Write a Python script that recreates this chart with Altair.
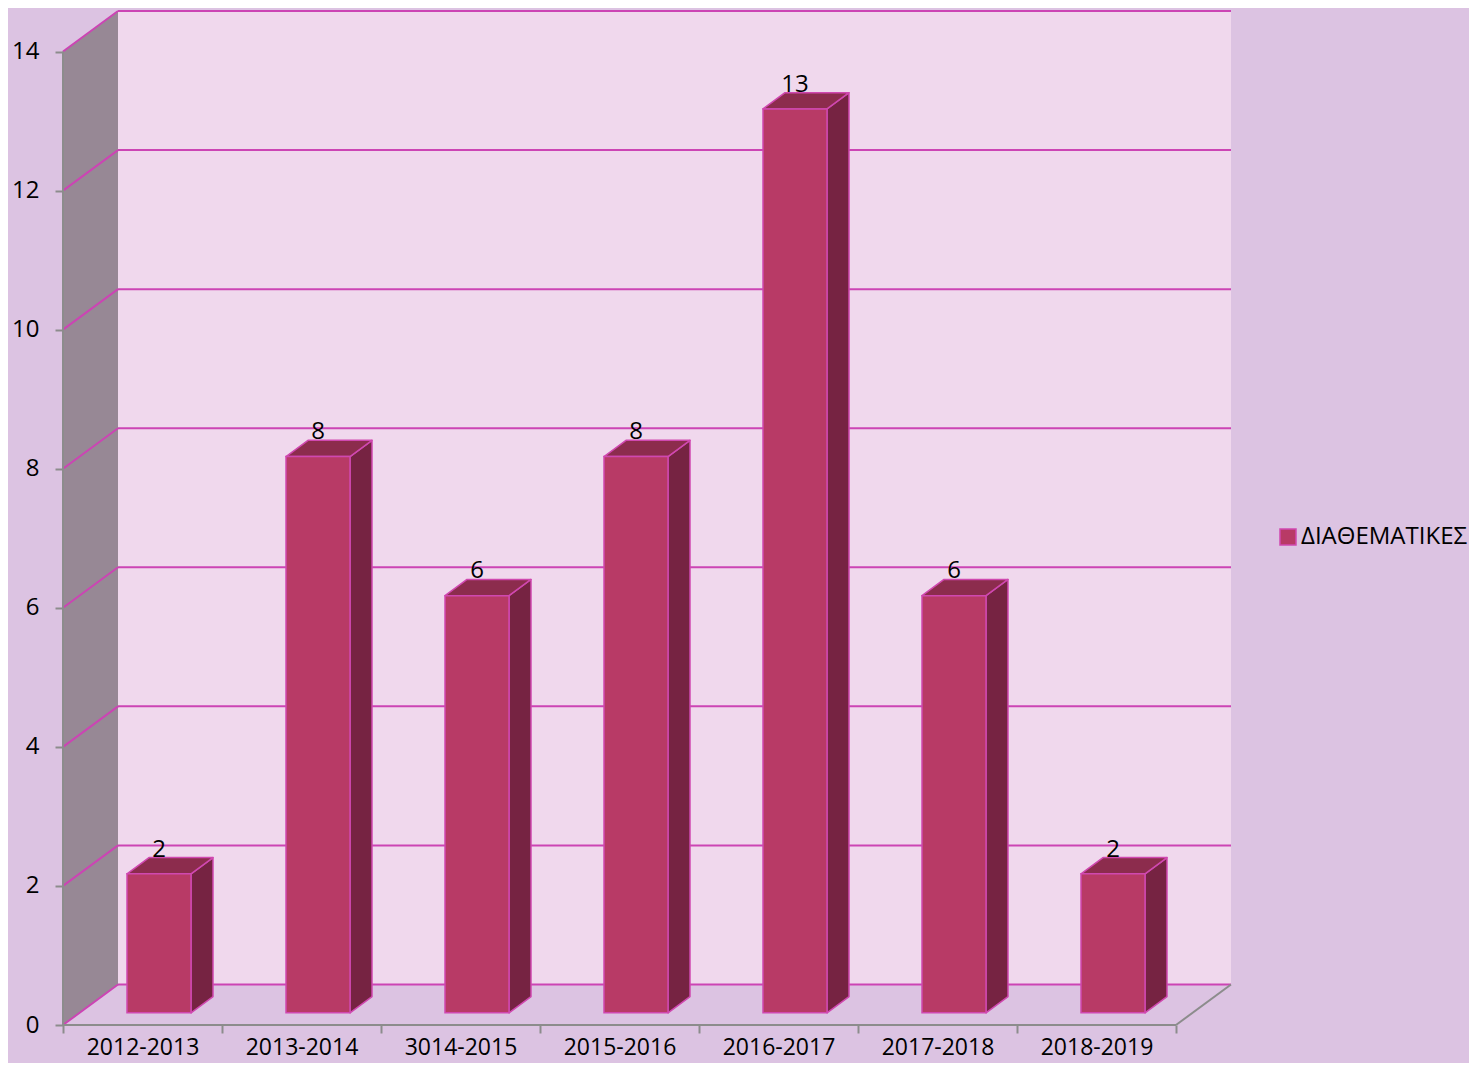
import json
import altair as alt
import pandas as pd

# ---- data ----
categories = ["2012-2013", "2013-2014", "3014-2015", "2015-2016", "2016-2017", "2017-2018", "2018-2019"]
values = [2, 8, 6, 8, 13, 6, 2]
series_name = "ΔΙΑΘΕΜΑΤΙΚΕΣ"
y_ticks = [0, 2, 4, 6, 8, 10, 12, 14]

# ---- style / geometry constants ----
W, H = 1168, 1014
DEPTH_PX_X, DEPTH_PX_Y = 55, 40.5
N = len(categories)
YMAX = 14
slot_px = (W - DEPTH_PX_X) / N
unit_px = (H - DEPTH_PX_Y) / YMAX
DX = DEPTH_PX_X / slot_px
DY = DEPTH_PX_Y / unit_px
HALF = 32 / slot_px
D0, D1 = 0.30, 0.70

BG = "#dcc3e2"
WALL = "#f0d8ed"
SIDEWALL = "#978895"
GRID = "#cc44b4"
GRAY = "#8c8c8c"
FRONT = "#b83a66"
SIDE = "#762342"
TOP = "#8c2c4d"
EDGE = "#d048b0"
FONT = "Open Sans"
FW = 500

xs = alt.Scale(domain=[0, N + DX], nice=False, zero=False)
ys = alt.Scale(domain=[0, YMAX + DY], nice=False, zero=False)

label_expr = f"datum.value < {N} ? {json.dumps(categories, ensure_ascii=False)}[datum.value] : ''"
xaxis = alt.Axis(values=list(range(N + 1)), labelExpr=label_expr, labelOffset=slot_px / 2,
                 tickSize=8, tickColor=GRAY, tickWidth=2, domain=False, grid=False,
                 labelFont=FONT, labelFontSize=23, labelFontWeight=FW, labelColor="black",
                 labelPadding=3, labelFlush=False, labelOverlap=False, labelBound=False, title=None)
yaxis = alt.Axis(values=y_ticks, tickSize=8, tickColor=GRAY, tickWidth=2, domain=False, grid=False,
                 labelFont=FONT, labelFontSize=24, labelFontWeight=FW, labelColor="black",
                 labelPadding=16, labelFlush=False, labelOverlap=False, title=None)


def X(f):
    return alt.X(f"{f}:Q", scale=xs, axis=xaxis)


def Y(f):
    return alt.Y(f"{f}:Q", scale=ys, axis=yaxis, stack=None)


# ---- derived tables ----
back = pd.DataFrame({"x": [DX], "x2": [N + DX], "y": [DY], "y2": [YMAX + DY]})
sidewall = pd.DataFrame({"x": [0, DX], "lo": [0, DY], "hi": [YMAX, YMAX + DY]})
grid_back = pd.DataFrame({"x": [DX] * len(y_ticks), "x2": [N + DX] * len(y_ticks),
                          "y": [t + DY for t in y_ticks]})
grid_diag = pd.DataFrame({"x": [0] * len(y_ticks), "x2": [DX] * len(y_ticks),
                          "y": y_ticks, "y2": [t + DY for t in y_ticks]})
gray_edges = pd.DataFrame({"x": [0, 0, N], "x2": [0, N, N + DX],
                           "y": [0, 0, 0], "y2": [YMAX, 0, DY]})

front_rows, side_rows, top_rows, label_rows = [], [], [], []
for i, (c, v) in enumerate(zip(categories, values)):
    xl = i + 0.5 - HALF + D0 * DX
    xr = i + 0.5 + HALF + D0 * DX
    sx = (D1 - D0) * DX
    front_rows.append({"x": xl, "x2": xr, "y": D0 * DY, "y2": v + D0 * DY, "series": series_name})
    side_rows.append({"id": i, "x": xr, "lo": D0 * DY, "hi": v + D0 * DY})
    side_rows.append({"id": i, "x": xr + sx, "lo": D1 * DY, "hi": v + D1 * DY})
    top_rows.append({"id": i, "y": v + D0 * DY, "xl": xl, "xr": xr})
    top_rows.append({"id": i, "y": v + D1 * DY, "xl": xl + sx, "xr": xr + sx})
    label_rows.append({"x": i + 0.5 + D0 * DX, "y": v + D1 * DY, "t": str(v)})

front_df = pd.DataFrame(front_rows)
side_df = pd.DataFrame(side_rows)
top_df = pd.DataFrame(top_rows)
label_df = pd.DataFrame(label_rows)

# ---- layers ----
l_back = alt.Chart(back).mark_rect(fill=WALL).encode(x=X("x"), x2="x2", y=Y("y"), y2="y2")
l_side = alt.Chart(sidewall).mark_area(orient="vertical", fill=SIDEWALL).encode(
    x=X("x"), y=Y("hi"), y2="lo")
l_gb = alt.Chart(grid_back).mark_rule(color=GRID, strokeWidth=2).encode(x=X("x"), x2="x2", y=Y("y"))
l_gd = alt.Chart(grid_diag).mark_rule(color=GRID, strokeWidth=2).encode(
    x=X("x"), x2="x2", y=Y("y"), y2="y2")
l_ge = alt.Chart(gray_edges).mark_rule(color=GRAY, strokeWidth=2).encode(
    x=X("x"), x2="x2", y=Y("y"), y2="y2")

l_bside = alt.Chart(side_df).mark_area(orient="vertical", fill=SIDE, stroke=EDGE, strokeWidth=1.5,
                                       strokeJoin="round").encode(
    x=X("x"), y=Y("hi"), y2="lo", detail="id:N")
l_btop = alt.Chart(top_df).mark_area(orient="horizontal", fill=TOP, stroke=EDGE, strokeWidth=1.5,
                                     strokeJoin="round").encode(
    y=Y("y"), x=X("xr"), x2="xl", detail="id:N")
l_bfront = alt.Chart(front_df).mark_rect(stroke=EDGE, strokeWidth=1.5, opacity=1).encode(
    x=X("x"), x2="x2", y=Y("y"), y2="y2",
    color=alt.Color("series:N", scale=alt.Scale(domain=[series_name], range=[FRONT]),
                    legend=alt.Legend(title=None, orient="none", legendX=1213, legendY=514,
                                      symbolType="square", symbolSize=256,
                                      symbolStrokeColor=EDGE, symbolStrokeWidth=1.5,
                                      symbolFillColor=FRONT, symbolOpacity=1,
                                      labelFont=FONT, labelFontSize=24, labelFontWeight=FW,
                                      labelColor="black", labelOffset=1, labelLimit=400)))
l_lab = alt.Chart(label_df).mark_text(font=FONT, fontSize=24, fontWeight=FW, color="black",
                                      baseline="alphabetic", align="center", dy=-1).encode(
    x=X("x"), y=Y("y"), text="t:N")

chart = alt.layer(l_back, l_side, l_gb, l_gd, l_ge, l_bside, l_btop, l_bfront, l_lab).properties(
    width=W, height=H,
    padding={"left": 55, "top": 3, "right": 238, "bottom": 38},
    autosize=alt.AutoSizeParams(type="none"),
    background=BG,
).configure_view(stroke=None)

chart.save("out.html", embed_options={"renderer": "svg", "actions": False})
